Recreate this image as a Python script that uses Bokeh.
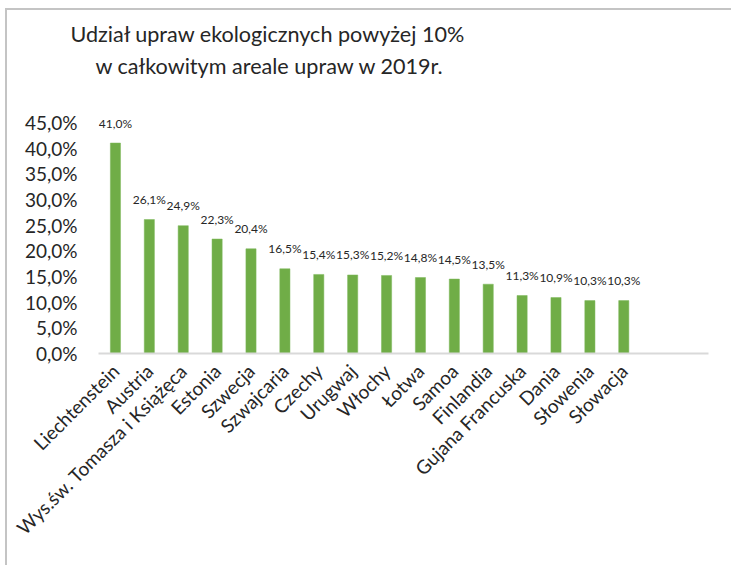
import math
from bokeh.plotting import figure
from bokeh.models import Range1d, FixedTicker, Title, ColumnDataSource
from bokeh.core.properties import value
from bokeh.embed import file_html
from bokeh.resources import INLINE

# ---- data ----
countries = ["Liechtenstein", "Austria", "Wys.św. Tomasza i Książęca", "Estonia",
             "Szwecja", "Szwajcaria", "Czechy", "Urugwaj", "Włochy", "Łotwa",
             "Samoa", "Finlandia", "Gujana Francuska", "Dania", "Słowenia", "Słowacja"]
shares = [41.0, 26.1, 24.9, 22.3, 20.4, 16.5, 15.4, 15.3, 15.2, 14.8,
          14.5, 13.5, 11.3, 10.9, 10.3, 10.3]
share_labels = ["41,0%", "26,1%", "24,9%", "22,3%", "20,4%", "16,5%", "15,4%", "15,3%",
                "15,2%", "14,8%", "14,5%", "13,5%", "11,3%", "10,9%", "10,3%", "10,3%"]
y_ticks = [0, 5, 10, 15, 20, 25, 30, 35, 40, 45]
y_tick_labels = ["0,0%", "5,0%", "10,0%", "15,0%", "20,0%", "25,0%", "30,0%",
                 "35,0%", "40,0%", "45,0%"]
title_lines = ["Udział upraw ekologicznych powyżej 10%",
               "w całkowitym areale upraw w 2019r."]
n_slots = 18

FONT = "Lato"
TXT = "#262626"

positions = list(range(1, len(countries) + 1))
src = ColumnDataSource(dict(x=positions, top=shares, label=share_labels))

p = figure(width=726, height=557, output_backend="svg", toolbar_location=None,
           x_range=Range1d(0.5, n_slots + 0.5), y_range=Range1d(0, 46.75),
           min_border_left=91, min_border_right=25, min_border_top=103,
           min_border_bottom=214,
           styles={"margin-left": "5px", "margin-top": "8px",
                   "border-left": "2px solid #C4C4C4", "border-top": "2px solid #C4C4C4"})
p.outline_line_color = None
p.xgrid.grid_line_color = None
p.ygrid.grid_line_color = None
p.background_fill_color = "white"
p.border_fill_color = "white"

p.vbar(x="x", top="top", width=0.3, bottom=0, source=src,
       fill_color="#70AD47", line_color="#7DB85A", line_width=0.5)

p.text(x="x", y="top", text="label", source=src, text_align="center",
       text_baseline="middle", y_offset=-20, text_font=value(FONT),
       text_font_size="12px", text_color=TXT)

# x axis
p.xaxis.ticker = FixedTicker(ticks=positions)
p.xaxis.major_label_overrides = {i: c for i, c in zip(positions, countries)}
p.xaxis.major_label_orientation = math.pi / 4
p.xaxis.major_tick_line_color = None
p.xaxis.minor_tick_line_color = None
p.xaxis.major_tick_out = 0
p.xaxis.major_tick_in = 0
p.xaxis.axis_line_color = "#D9D9D9"
p.xaxis.axis_line_width = 2
p.xaxis.major_label_standoff = 14
p.xaxis.major_label_text_font = FONT
p.xaxis.major_label_text_font_size = "19px"
p.xaxis.major_label_text_color = TXT

# y axis
p.yaxis.ticker = FixedTicker(ticks=y_ticks)
p.yaxis.major_label_overrides = {t: l for t, l in zip(y_ticks, y_tick_labels)}
p.yaxis.axis_line_color = None
p.yaxis.major_tick_line_color = None
p.yaxis.minor_tick_line_color = None
p.yaxis.major_tick_out = 0
p.yaxis.major_tick_in = 0
p.yaxis.major_label_standoff = 21
p.yaxis.major_label_text_font = FONT
p.yaxis.major_label_text_font_size = "19px"
p.yaxis.major_label_text_color = TXT

# title: spacer next to the frame, then the two lines (bottom line first)
p.add_layout(Title(text=" ", text_font_size="10px", standoff=20), "above")
p.add_layout(Title(text=title_lines[1], align="left", offset=-3, standoff=4,
                   text_font=FONT, text_font_size="21.6px", text_font_style="normal",
                   text_color=TXT), "above")
p.add_layout(Title(text=title_lines[0], align="left", offset=-28, standoff=4,
                   text_font=FONT, text_font_size="21.6px", text_font_style="normal",
                   text_color=TXT), "above")

open("out.html", "w").write(file_html(p, INLINE))
